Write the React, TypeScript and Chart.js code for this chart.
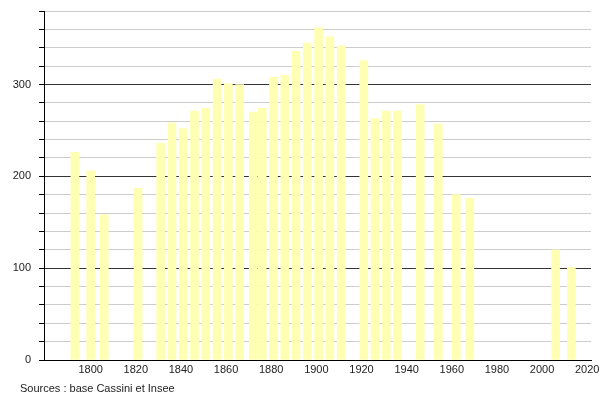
import React, { useEffect, useRef } from "react";
import { Chart, registerables } from "chart.js";

Chart.register(...registerables);

const years = [1793, 1800, 1806, 1821, 1831, 1836, 1841, 1846, 1851, 1856, 1861, 1866, 1872, 1876, 1881, 1886, 1891, 1896, 1901, 1906, 1911, 1921, 1926, 1931, 1936, 1946, 1954, 1962, 1968, 2006, 2013];
const population = [226, 206, 158, 187, 236, 258, 252, 271, 274, 306, 301, 300, 270, 274, 308, 310, 336, 345, 362, 352, 342, 326, 263, 271, 271, 278, 257, 180, 176, 120, 101];
const xTicks = [1800, 1820, 1840, 1860, 1880, 1900, 1920, 1940, 1960, 1980, 2000, 2020];
const sourceText = "Sources : base Cassini et Insee";

const FONT = "'Liberation Sans', Arial, sans-serif";

export default function App() {
  const ref = useRef<HTMLCanvasElement>(null);
  useEffect(() => {
    document.body.style.margin = "0";
    const canvas = ref.current!;
    const sourcePlugin = {
      id: "sourceText",
      afterDraw(chart: any) {
        const ctx = chart.ctx;
        ctx.save();
        ctx.font = `11px ${FONT}`;
        ctx.fillStyle = "#222";
        ctx.textBaseline = "middle";
        ctx.textAlign = "left";
        ctx.fillText(sourceText, 20, 389);
        ctx.restore();
      },
    };
    const chart = new Chart(canvas, {
      type: "bar",
      data: {
        datasets: [
          {
            data: years.map((y, i) => ({ x: y, y: population[i] })),
            backgroundColor: "#ffffb4",
            borderWidth: 0,
            barThickness: 8,
          },
        ],
      },
      options: {
        animation: false,
        responsive: false,
        maintainAspectRatio: false,
        layout: { padding: { top: 11, right: 9, left: 0, bottom: 0 } },
        plugins: { legend: { display: false }, tooltip: { enabled: false } },
        scales: {
          x: {
            type: "linear",
            min: 1779.3,
            max: 2021.7,
            offset: false,
            afterBuildTicks: (scale: any) => {
              scale.ticks = xTicks.map((v) => ({ value: v }));
            },
            afterFit: (scale: any) => {
              scale.height = 40;
              scale.paddingRight = 0;
              scale.paddingLeft = 0;
            },
            grid: { display: false, drawTicks: false },
            border: { display: true, color: "#000", width: 1 },
            ticks: {
              padding: 3,
              color: "#222",
              font: { family: FONT, size: 11 },
              maxRotation: 0,
              autoSkip: false,
              callback: (v: any) => String(v),
            },
          },
          y: {
            min: 0,
            max: 380,
            afterFit: (scale: any) => {
              scale.width = 44;
              scale.paddingTop = 0;
              scale.paddingBottom = 0;
            },
            ticks: {
              stepSize: 20,
              padding: 8,
              color: "#222",
              font: { family: FONT, size: 11 },
              callback: (v: any) => (Number(v) % 100 === 0 ? String(v) : ""),
            },
            grid: {
              color: (ctx: any) => (ctx.tick && ctx.tick.value % 100 === 0 ? "#333" : "#cccccc"),
              tickColor: "#000",
              tickLength: 5,
              lineWidth: 1,
            },
            border: { display: true, color: "#000", width: 1 },
          },
        },
      },
      plugins: [sourcePlugin],
    });
    return () => chart.destroy();
  }, []);
  return (
    <div style={{ position: "absolute", left: 0, top: 0, width: 600, height: 400 }}>
      <canvas ref={ref} width={600} height={400} style={{ width: 600, height: 400 }} />
    </div>
  );
}
